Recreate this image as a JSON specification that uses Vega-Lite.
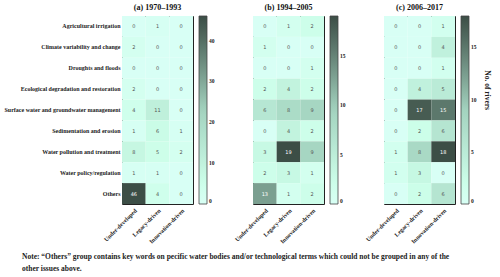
{
  "$schema": "https://vega.github.io/schema/vega-lite/v6.json",
  "padding": {"left": 3, "top": 3, "right": 2, "bottom": 3},
  "bounds": "flush",
  "spacing": 60,
  "title": {
    "text": ["Note: \u201cOthers\u201d group contains key words on pecific water bodies and/or technological terms which could not be grouped in any of the", "other issues above."],
    "orient": "bottom", "anchor": "start", "fontSize": 7.5, "fontWeight": "bold", "font": "Liberation Serif", "color": "#222", "offset": 8, "lineHeight": 12, "dx": -100, "frame": "group"
  },
  "datasets": {
    "cells": [
      {"period": "a", "issue": "Agricultural irrigation", "group": "Under-developed", "n": 0},
      {"period": "a", "issue": "Agricultural irrigation", "group": "Legacy-driven", "n": 1},
      {"period": "a", "issue": "Agricultural irrigation", "group": "Innovation-driven", "n": 0},
      {"period": "a", "issue": "Climate variability and change", "group": "Under-developed", "n": 2},
      {"period": "a", "issue": "Climate variability and change", "group": "Legacy-driven", "n": 0},
      {"period": "a", "issue": "Climate variability and change", "group": "Innovation-driven", "n": 0},
      {"period": "a", "issue": "Droughts and floods", "group": "Under-developed", "n": 0},
      {"period": "a", "issue": "Droughts and floods", "group": "Legacy-driven", "n": 0},
      {"period": "a", "issue": "Droughts and floods", "group": "Innovation-driven", "n": 0},
      {"period": "a", "issue": "Ecological degradation and restoration", "group": "Under-developed", "n": 2},
      {"period": "a", "issue": "Ecological degradation and restoration", "group": "Legacy-driven", "n": 0},
      {"period": "a", "issue": "Ecological degradation and restoration", "group": "Innovation-driven", "n": 0},
      {"period": "a", "issue": "Surface water and groundwater management", "group": "Under-developed", "n": 4},
      {"period": "a", "issue": "Surface water and groundwater management", "group": "Legacy-driven", "n": 11},
      {"period": "a", "issue": "Surface water and groundwater management", "group": "Innovation-driven", "n": 0},
      {"period": "a", "issue": "Sedimentation and erosion", "group": "Under-developed", "n": 1},
      {"period": "a", "issue": "Sedimentation and erosion", "group": "Legacy-driven", "n": 6},
      {"period": "a", "issue": "Sedimentation and erosion", "group": "Innovation-driven", "n": 1},
      {"period": "a", "issue": "Water pollution and treatment", "group": "Under-developed", "n": 8},
      {"period": "a", "issue": "Water pollution and treatment", "group": "Legacy-driven", "n": 5},
      {"period": "a", "issue": "Water pollution and treatment", "group": "Innovation-driven", "n": 2},
      {"period": "a", "issue": "Water policy/regulation", "group": "Under-developed", "n": 1},
      {"period": "a", "issue": "Water policy/regulation", "group": "Legacy-driven", "n": 1},
      {"period": "a", "issue": "Water policy/regulation", "group": "Innovation-driven", "n": 0},
      {"period": "a", "issue": "Others", "group": "Under-developed", "n": 46},
      {"period": "a", "issue": "Others", "group": "Legacy-driven", "n": 4},
      {"period": "a", "issue": "Others", "group": "Innovation-driven", "n": 0},
      {"period": "b", "issue": "Agricultural irrigation", "group": "Under-developed", "n": 0},
      {"period": "b", "issue": "Agricultural irrigation", "group": "Legacy-driven", "n": 1},
      {"period": "b", "issue": "Agricultural irrigation", "group": "Innovation-driven", "n": 2},
      {"period": "b", "issue": "Climate variability and change", "group": "Under-developed", "n": 1},
      {"period": "b", "issue": "Climate variability and change", "group": "Legacy-driven", "n": 0},
      {"period": "b", "issue": "Climate variability and change", "group": "Innovation-driven", "n": 0},
      {"period": "b", "issue": "Droughts and floods", "group": "Under-developed", "n": 0},
      {"period": "b", "issue": "Droughts and floods", "group": "Legacy-driven", "n": 0},
      {"period": "b", "issue": "Droughts and floods", "group": "Innovation-driven", "n": 1},
      {"period": "b", "issue": "Ecological degradation and restoration", "group": "Under-developed", "n": 2},
      {"period": "b", "issue": "Ecological degradation and restoration", "group": "Legacy-driven", "n": 4},
      {"period": "b", "issue": "Ecological degradation and restoration", "group": "Innovation-driven", "n": 2},
      {"period": "b", "issue": "Surface water and groundwater management", "group": "Under-developed", "n": 6},
      {"period": "b", "issue": "Surface water and groundwater management", "group": "Legacy-driven", "n": 8},
      {"period": "b", "issue": "Surface water and groundwater management", "group": "Innovation-driven", "n": 9},
      {"period": "b", "issue": "Sedimentation and erosion", "group": "Under-developed", "n": 0},
      {"period": "b", "issue": "Sedimentation and erosion", "group": "Legacy-driven", "n": 4},
      {"period": "b", "issue": "Sedimentation and erosion", "group": "Innovation-driven", "n": 2},
      {"period": "b", "issue": "Water pollution and treatment", "group": "Under-developed", "n": 3},
      {"period": "b", "issue": "Water pollution and treatment", "group": "Legacy-driven", "n": 19},
      {"period": "b", "issue": "Water pollution and treatment", "group": "Innovation-driven", "n": 9},
      {"period": "b", "issue": "Water policy/regulation", "group": "Under-developed", "n": 2},
      {"period": "b", "issue": "Water policy/regulation", "group": "Legacy-driven", "n": 3},
      {"period": "b", "issue": "Water policy/regulation", "group": "Innovation-driven", "n": 1},
      {"period": "b", "issue": "Others", "group": "Under-developed", "n": 13},
      {"period": "b", "issue": "Others", "group": "Legacy-driven", "n": 1},
      {"period": "b", "issue": "Others", "group": "Innovation-driven", "n": 2},
      {"period": "c", "issue": "Agricultural irrigation", "group": "Under-developed", "n": 0},
      {"period": "c", "issue": "Agricultural irrigation", "group": "Legacy-driven", "n": 0},
      {"period": "c", "issue": "Agricultural irrigation", "group": "Innovation-driven", "n": 1},
      {"period": "c", "issue": "Climate variability and change", "group": "Under-developed", "n": 0},
      {"period": "c", "issue": "Climate variability and change", "group": "Legacy-driven", "n": 0},
      {"period": "c", "issue": "Climate variability and change", "group": "Innovation-driven", "n": 4},
      {"period": "c", "issue": "Droughts and floods", "group": "Under-developed", "n": 0},
      {"period": "c", "issue": "Droughts and floods", "group": "Legacy-driven", "n": 0},
      {"period": "c", "issue": "Droughts and floods", "group": "Innovation-driven", "n": 1},
      {"period": "c", "issue": "Ecological degradation and restoration", "group": "Under-developed", "n": 0},
      {"period": "c", "issue": "Ecological degradation and restoration", "group": "Legacy-driven", "n": 4},
      {"period": "c", "issue": "Ecological degradation and restoration", "group": "Innovation-driven", "n": 5},
      {"period": "c", "issue": "Surface water and groundwater management", "group": "Under-developed", "n": 0},
      {"period": "c", "issue": "Surface water and groundwater management", "group": "Legacy-driven", "n": 17},
      {"period": "c", "issue": "Surface water and groundwater management", "group": "Innovation-driven", "n": 15},
      {"period": "c", "issue": "Sedimentation and erosion", "group": "Under-developed", "n": 0},
      {"period": "c", "issue": "Sedimentation and erosion", "group": "Legacy-driven", "n": 2},
      {"period": "c", "issue": "Sedimentation and erosion", "group": "Innovation-driven", "n": 6},
      {"period": "c", "issue": "Water pollution and treatment", "group": "Under-developed", "n": 1},
      {"period": "c", "issue": "Water pollution and treatment", "group": "Legacy-driven", "n": 8},
      {"period": "c", "issue": "Water pollution and treatment", "group": "Innovation-driven", "n": 18},
      {"period": "c", "issue": "Water policy/regulation", "group": "Under-developed", "n": 1},
      {"period": "c", "issue": "Water policy/regulation", "group": "Legacy-driven", "n": 3},
      {"period": "c", "issue": "Water policy/regulation", "group": "Innovation-driven", "n": 0},
      {"period": "c", "issue": "Others", "group": "Under-developed", "n": 0},
      {"period": "c", "issue": "Others", "group": "Legacy-driven", "n": 2},
      {"period": "c", "issue": "Others", "group": "Innovation-driven", "n": 6}
    ]
  },
  "resolve": {"scale": {"color": "independent"}, "legend": {"color": "independent"}},
  "hconcat": [
    {
      "width": 71, "height": 188,
      "title": {"text": "(a) 1970\u20131993"},
      "data": {"name": "cells"},
      "transform": [{"filter": "datum.period === 'a'"}],
      "encoding": {
        "x": {"field": "group", "type": "nominal", "sort": ["Under-developed", "Legacy-driven", "Innovation-driven"], "title": null},
        "y": {"field": "issue", "type": "nominal", "sort": null, "title": null, "axis": {"labels": true}}
      },
      "layer": [
        {"mark": {"type": "rect"}, "encoding": {"color": {"field": "n", "type": "quantitative", "scale": {"domain": [0, 23, 46], "range": ["#ffffff", "#a3d3bf", "#3c4e46"]}, "legend": {"title": null, "values": [0, 10, 20, 30, 40]}}}},
        {"mark": {"type": "text", "fontSize": 5, "font": "DejaVu Sans"}, "encoding": {"text": {"field": "n", "type": "quantitative"}, "color": {"condition": {"test": "datum.n > 27", "value": "#ffffff"}, "value": "#555555"}}}
      ]
    },
    {
      "width": 71, "height": 188,
      "title": {"text": "(b) 1994\u20132005"},
      "data": {"name": "cells"},
      "transform": [{"filter": "datum.period === 'b'"}],
      "encoding": {
        "x": {"field": "group", "type": "nominal", "sort": ["Under-developed", "Legacy-driven", "Innovation-driven"], "title": null},
        "y": {"field": "issue", "type": "nominal", "sort": null, "title": null, "axis": {"labels": false}}
      },
      "layer": [
        {"mark": {"type": "rect"}, "encoding": {"color": {"field": "n", "type": "quantitative", "scale": {"domain": [0, 9.5, 19], "range": ["#ffffff", "#a3d3bf", "#3c4e46"]}, "legend": {"title": null, "values": [0, 5, 10, 15]}}}},
        {"mark": {"type": "text", "fontSize": 5, "font": "DejaVu Sans"}, "encoding": {"text": {"field": "n", "type": "quantitative"}, "color": {"condition": {"test": "datum.n > 12", "value": "#ffffff"}, "value": "#555555"}}}
      ]
    },
    {
      "width": 71, "height": 188,
      "title": {"text": "(c) 2006\u20132017"},
      "data": {"name": "cells"},
      "transform": [{"filter": "datum.period === 'c'"}],
      "encoding": {
        "x": {"field": "group", "type": "nominal", "sort": ["Under-developed", "Legacy-driven", "Innovation-driven"], "title": null},
        "y": {"field": "issue", "type": "nominal", "sort": null, "title": null, "axis": {"labels": false}}
      },
      "layer": [
        {"mark": {"type": "rect"}, "encoding": {"color": {"field": "n", "type": "quantitative", "scale": {"domain": [0, 9, 18], "range": ["#ffffff", "#a3d3bf", "#3c4e46"]}, "legend": {"title": "No. of rivers", "values": [0, 5, 10, 15], "titleOrient": "right", "titleAnchor": "middle", "titleAlign": "right", "titleFontSize": 7.5, "titlePadding": 6}}}},
        {"mark": {"type": "text", "fontSize": 5, "font": "DejaVu Sans"}, "encoding": {"text": {"field": "n", "type": "quantitative"}, "color": {"condition": {"test": "datum.n > 12", "value": "#ffffff"}, "value": "#555555"}}}
      ]
    }
  ],
  "config": {
    "font": "Liberation Serif",
    "view": {"stroke": "#222", "strokeWidth": 1},
    "title": {"fontSize": 8, "fontWeight": "bold", "offset": 4, "color": "#111", "font": "Liberation Serif"},
    "axis": {"ticks": false, "domain": false, "grid": false, "labelFont": "Liberation Serif", "labelFontWeight": "bold", "labelFontSize": 6, "labelColor": "#222", "labelPadding": 2},
    "axisX": {"labelAngle": -45, "labelPadding": 3},
    "axisY": {"labelLimit": 0},
    "legend": {"gradientLength": 188, "gradientThickness": 8, "gradientStrokeColor": "#444", "gradientStrokeWidth": 0.8, "offset": 6, "labelFont": "Liberation Serif", "labelFontWeight": "bold", "labelFontSize": 5.5, "labelColor": "#222", "labelOffset": 3, "titleFont": "Liberation Serif", "titleFontWeight": "bold", "titleColor": "#222"}
  }
}
